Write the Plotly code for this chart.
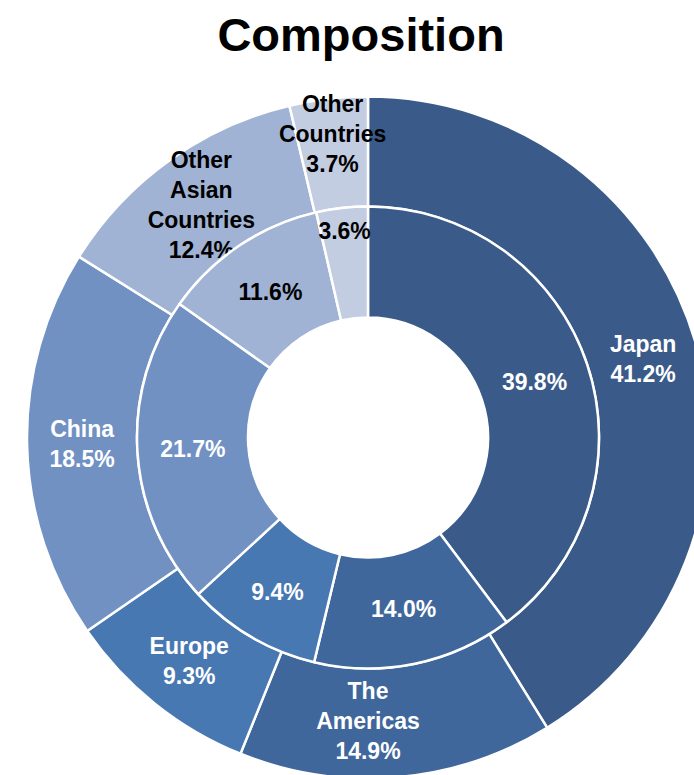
import plotly.graph_objects as go

# Regional composition: outer ring and inner ring share the same regions
regions = ["Japan", "The Americas", "Europe", "China", "Other Asian Countries", "Other Countries"]
region_labels = ["Japan", "The<br>Americas", "Europe", "China", "Other<br>Asian<br>Countries", "Other<br>Countries"]
outer_values = [41.2, 14.9, 9.3, 18.5, 12.4, 3.7]
inner_values = [39.8, 14.0, 9.4, 21.7, 11.6, 3.6]

colors = ["#3a5b89", "#3f679b", "#4878b1", "#7191c3", "#a1b3d4", "#c3cde1"]
text_colors = ["white", "white", "white", "white", "black", "black"]

W, H = 712, 782
CX, CY = 368, 437.5
R_OUT, R_MID, R_HOLE = 341, 231, 120
LABEL_SIZE = 23


def domain(r):
    return dict(
        x=[(CX - r) / W, (CX + r) / W],
        y=[1 - (CY + r) / H, 1 - (CY - r) / H],
    )


outer_text = [f"{lab}<br>{v:.1f}%" for lab, v in zip(region_labels, outer_values)]
inner_text = [f"{v:.1f}%" for v in inner_values]

font = dict(family="Liberation Sans, Arial, sans-serif", size=LABEL_SIZE, weight="bold")

fig = go.Figure()
fig.add_trace(go.Pie(
    labels=regions, values=outer_values, text=outer_text,
    textinfo="text", textposition="inside", insidetextorientation="horizontal",
    hole=R_MID / R_OUT, sort=False, direction="clockwise", rotation=0,
    marker=dict(colors=colors, line=dict(color="white", width=2.5)),
    textfont=dict(color=text_colors, **font),
    domain=domain(R_OUT), showlegend=False,
))
fig.add_trace(go.Pie(
    labels=regions, values=inner_values, text=inner_text,
    textinfo="text", textposition="inside", insidetextorientation="horizontal",
    hole=R_HOLE / R_MID, sort=False, direction="clockwise", rotation=0,
    marker=dict(colors=colors, line=dict(color="white", width=2.5)),
    textfont=dict(color=text_colors, **font),
    domain=domain(R_MID), showlegend=False,
))

fig.update_layout(
    width=W, height=H,
    margin=dict(l=0, r=0, t=0, b=0),
    paper_bgcolor="white", plot_bgcolor="white",
    uniformtext=dict(minsize=LABEL_SIZE, mode="show"),
    title=dict(
        text="<b>Composition</b>",
        font=dict(family="Liberation Sans, Arial, sans-serif", size=47, color="black"),
        x=361 / W, xanchor="center", xref="paper",
        y=1 - 35 / H, yanchor="middle", yref="container",
    ),
)

fig.write_html(
    "out.html",
    post_script="document.documentElement.style.overflow='hidden';document.body.style.overflow='hidden';document.body.style.margin='0';",
)
